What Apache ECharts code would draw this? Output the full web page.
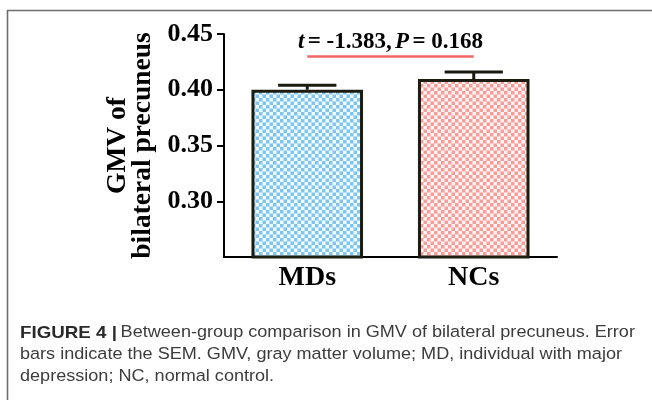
<!DOCTYPE html>
<html>
<head>
<meta charset="utf-8">
<script src="https://cdn.jsdelivr.net/npm/echarts@6/dist/echarts.min.js"></script>
<style>
html,body{margin:0;padding:0;background:#fff;}
#c{width:652px;height:400px;}
</style>
</head>
<body>
<div id="c"></div>
<script>
const categories = ['MDs', 'NCs'];
const means = [0.400, 0.4096];
const sems = [0.0040, 0.0063];
const yTicks = [0.30, 0.35, 0.40, 0.45];
const yMin = 0.25, yMax = 0.45, yStep = 0.05;
const statLineValue = 0.430;
const statT = '-1.383';
const statP = '0.168';
const yName = 'GMV of\nbilateral precuneus';
const captionBold = 'FIGURE 4 |';
const captionLines = [
  'Between-group comparison in GMV of bilateral precuneus. Error',
  'bars indicate the SEM. GMV, gray matter volume; MD, individual with major',
  'depression; NC, normal control.'
];

function checker(c1, c2) {
  const cv = document.createElement('canvas');
  cv.width = 7; cv.height = 7;
  const ctx = cv.getContext('2d');
  ctx.fillStyle = c2; ctx.fillRect(0, 0, 7, 7);
  ctx.fillStyle = c1;
  ctx.fillRect(0, 0, 3.5, 3.5);
  ctx.fillRect(3.5, 3.5, 3.5, 3.5);
  return {image: cv, repeat: 'repeat'};
}
const fills = [checker('#7cc6ef', '#f4fbff'), checker('#f89d99', '#fff4f3')];

const serif = '"Liberation Serif", "Times New Roman", serif';
const sans = '"Liberation Sans", Arial, sans-serif';

const chart = echarts.init(document.getElementById('c'), null, {renderer: 'canvas'});
chart.setOption({
  backgroundColor: '#fff',
  animation: false,
  grid: {left: 224, right: 95, top: 34, bottom: 143, outerBoundsMode: 'none'},
  xAxis: {
    type: 'category',
    data: categories,
    axisLine: {lineStyle: {color: '#000', width: 2}},
    axisTick: {alignWithLabel: true, length: 6, lineStyle: {color: '#000', width: 2}},
    axisLabel: {color: '#000', fontFamily: serif, fontWeight: 'bold', fontSize: 28, margin: 7}
  },
  yAxis: {
    type: 'value',
    min: yMin, max: yMax, interval: yStep,
    name: yName,
    nameLocation: 'middle',
    nameRotate: 90,
    nameGap: 57,
    nameTextStyle: {color: '#000', fontFamily: serif, fontWeight: 'bold', fontSize: 27.5, lineHeight: 25},
    axisLine: {show: true, lineStyle: {color: '#000', width: 2}},
    axisTick: {show: true, length: 7, customValues: yTicks, lineStyle: {color: '#000', width: 2}},
    axisLabel: {color: '#000', fontFamily: serif, fontWeight: 'bold', fontSize: 26, margin: 11,
      customValues: yTicks, formatter: v => v.toFixed(2)},
    splitLine: {show: false}
  },
  series: [
    {
      type: 'bar',
      data: means.map((v, i) => ({value: v, itemStyle: {color: fills[i]}})),
      barWidth: '67%',
      itemStyle: {borderColor: '#1c1c10', borderWidth: 3},
      z: 2
    },
    {
      type: 'custom',
      data: means.map((v, i) => [i, v, sems[i]]),
      encode: {x: 0, y: 1},
      z: 3,
      renderItem: function (params, api) {
        const x = api.value(0), m = api.value(1), e = api.value(2);
        const p0 = api.coord([x, m]);
        const p1 = api.coord([x, m + e]);
        const half = api.size([1, 0])[0] * 0.175;
        return {type: 'group', children: [
          {type: 'line', shape: {x1: p0[0], y1: p0[1], x2: p1[0], y2: p1[1]}, style: {stroke: '#1a1a10', lineWidth: 3}},
          {type: 'line', shape: {x1: p1[0] - half, y1: p1[1], x2: p1[0] + half, y2: p1[1]}, style: {stroke: '#1a1a10', lineWidth: 3}}
        ]};
      }
    },
    {
      type: 'line',
      data: [],
      markLine: {
        silent: true,
        symbol: ['none', 'none'],
        lineStyle: {color: '#f26565', width: 2.5, type: 'solid'},
        label: {
          show: true, position: 'middle', distance: 3,
          formatter: '{i|t} {b|= ' + statT + ',} {i|P} {b|= ' + statP + '}',
          rich: {
            i: {fontFamily: serif, fontWeight: 'bold', fontStyle: 'italic', fontSize: 23, color: '#000'},
            b: {fontFamily: serif, fontWeight: 'bold', fontSize: 23, color: '#000'}
          }
        },
        data: [[{coord: [categories[0], statLineValue]}, {coord: [categories[1], statLineValue]}]]
      }
    }
  ],
  graphic: [
    {type: 'line', shape: {x1: 7, y1: 10.5, x2: 652, y2: 10.5}, style: {stroke: '#6e6e6e', lineWidth: 1.6}},
    {type: 'line', shape: {x1: 7.5, y1: 10, x2: 7.5, y2: 400}, style: {stroke: '#6e6e6e', lineWidth: 1.6}},
    {
      type: 'text', x: 20, y: 322, scaleX: 1.11,
      style: {
        text: '{b|' + captionBold + '} {r|' + captionLines[0] + '}\n{r|' + captionLines[1] + '}\n{r|' + captionLines[2] + '}',
        rich: {
          b: {fontFamily: sans, fontWeight: 'bold', fontSize: 16.9, lineHeight: 22, fill: '#2a2a2a'},
          r: {fontFamily: sans, fontSize: 16.3, lineHeight: 22, fill: '#3c3c3c'}
        }
      }
    }
  ]
});
</script>
</body>
</html>
